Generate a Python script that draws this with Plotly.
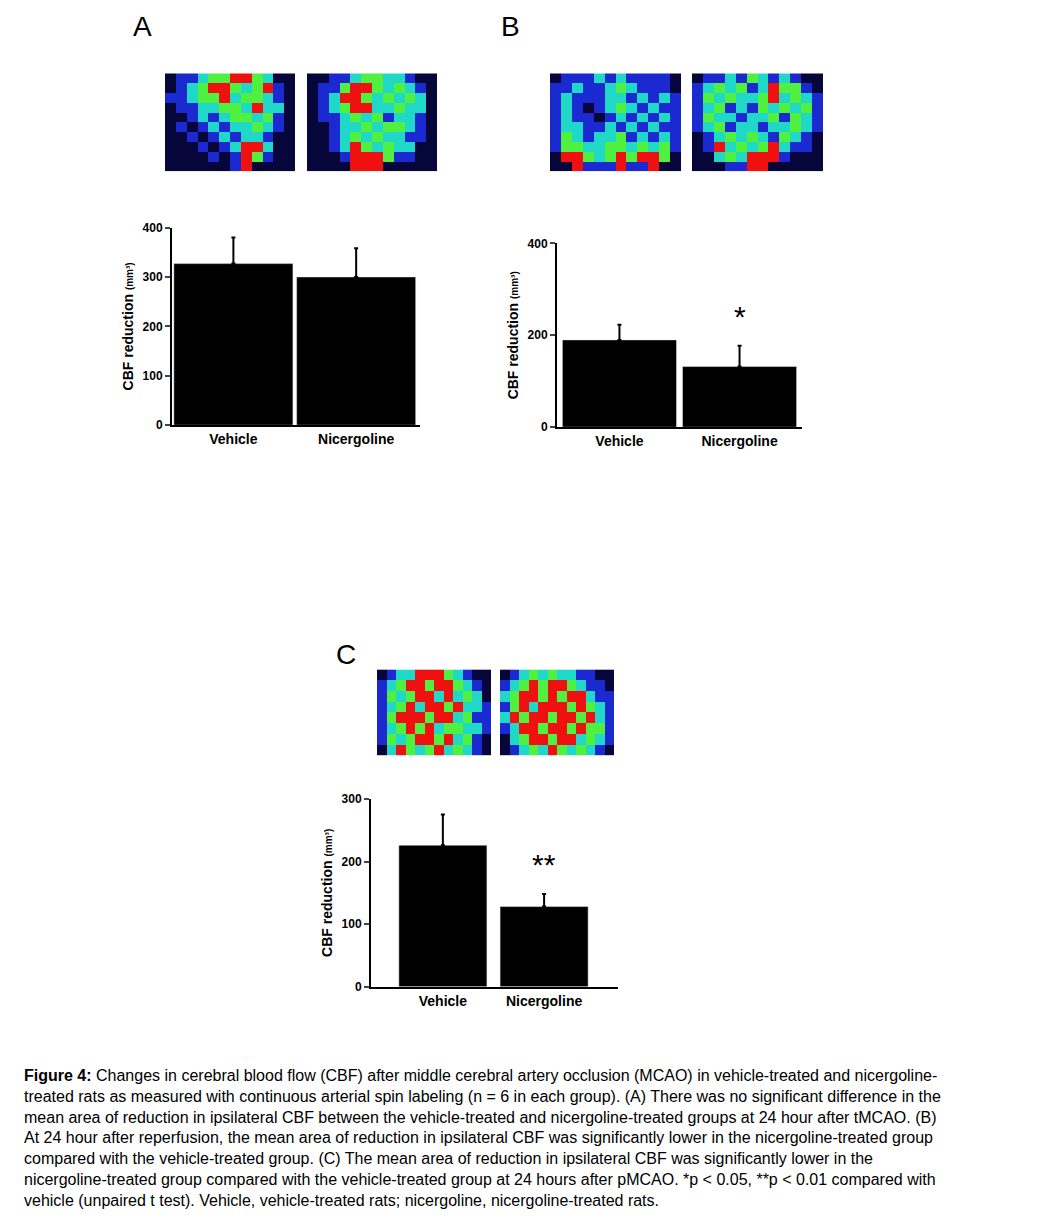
import plotly.graph_objects as go

# Bar data (CBF reduction, mm3)
groups = ["Vehicle", "Nicergoline"]
a_mean = [327, 300]
a_err = [53, 58]
b_mean = [190, 132]
b_err = [33, 45]
c_mean = [226, 128]
c_err = [49, 20]

# Perfusion map grids, 0 = background, 1 blue, 2 cyan, 3 green, 4 red
a_veh = [
    [0, 1, 1, 2, 3, 3, 4, 4, 3, 2, 0, 0],
    [0, 1, 2, 3, 4, 4, 3, 2, 3, 4, 1, 0],
    [1, 1, 2, 3, 3, 4, 2, 3, 3, 2, 1, 0],
    [0, 1, 1, 2, 2, 3, 3, 2, 4, 2, 2, 0],
    [0, 0, 1, 2, 1, 2, 3, 3, 2, 3, 1, 0],
    [0, 1, 0, 1, 2, 1, 2, 2, 3, 2, 1, 0],
    [0, 0, 1, 0, 1, 2, 1, 2, 2, 1, 0, 0],
    [0, 0, 0, 1, 0, 1, 2, 4, 4, 2, 0, 0],
    [0, 0, 0, 0, 1, 0, 1, 4, 3, 1, 0, 0],
    [0, 0, 0, 0, 0, 0, 1, 4, 0, 0, 0, 0],
]
a_nic = [
    [0, 0, 1, 1, 2, 3, 3, 2, 2, 1, 0, 0],
    [0, 1, 1, 3, 4, 4, 3, 2, 3, 2, 1, 0],
    [0, 1, 2, 4, 4, 3, 2, 3, 2, 3, 2, 0],
    [0, 1, 2, 3, 4, 4, 2, 2, 3, 2, 2, 0],
    [0, 1, 1, 2, 3, 2, 3, 1, 2, 2, 1, 0],
    [0, 0, 1, 2, 2, 3, 2, 3, 3, 2, 1, 0],
    [0, 0, 1, 2, 3, 2, 3, 2, 2, 1, 1, 0],
    [0, 0, 1, 2, 4, 3, 2, 3, 2, 2, 0, 0],
    [0, 0, 0, 1, 4, 4, 4, 3, 1, 1, 0, 0],
    [0, 0, 0, 0, 4, 4, 4, 0, 0, 0, 0, 0],
]
b_veh = [
    [0, 1, 1, 1, 2, 1, 2, 1, 1, 1, 1, 0],
    [1, 1, 2, 1, 1, 2, 3, 2, 1, 1, 1, 0],
    [1, 2, 1, 1, 1, 2, 2, 1, 2, 1, 2, 1],
    [1, 2, 1, 0, 1, 2, 3, 2, 1, 2, 1, 1],
    [1, 2, 1, 1, 0, 1, 2, 1, 2, 1, 2, 1],
    [1, 2, 2, 1, 1, 2, 1, 2, 1, 2, 1, 1],
    [1, 3, 2, 1, 2, 2, 3, 1, 2, 1, 2, 1],
    [1, 3, 3, 2, 2, 3, 3, 2, 3, 2, 3, 1],
    [0, 4, 4, 3, 2, 3, 4, 3, 4, 4, 3, 0],
    [0, 0, 4, 1, 1, 1, 4, 1, 1, 4, 0, 0],
]
b_nic = [
    [0, 1, 1, 2, 1, 3, 2, 1, 2, 1, 0, 0],
    [1, 2, 3, 2, 3, 1, 2, 4, 3, 3, 1, 0],
    [1, 3, 2, 3, 2, 2, 3, 4, 2, 3, 2, 1],
    [1, 2, 3, 1, 2, 1, 3, 2, 3, 2, 3, 1],
    [1, 3, 2, 2, 1, 2, 2, 3, 1, 3, 2, 1],
    [1, 2, 3, 1, 2, 2, 1, 2, 2, 3, 2, 1],
    [0, 1, 2, 3, 2, 3, 2, 1, 3, 2, 1, 0],
    [0, 1, 4, 2, 3, 2, 3, 4, 2, 1, 1, 0],
    [0, 0, 2, 3, 2, 4, 4, 4, 1, 0, 0, 0],
    [0, 0, 0, 1, 1, 4, 4, 0, 0, 0, 0, 0],
]
c_veh = [
    [0, 1, 2, 2, 4, 4, 4, 3, 2, 1, 0, 0],
    [1, 2, 3, 4, 4, 3, 4, 4, 3, 2, 1, 0],
    [1, 3, 2, 3, 4, 4, 2, 4, 2, 3, 2, 0],
    [1, 2, 3, 4, 2, 4, 4, 3, 4, 2, 2, 1],
    [1, 3, 4, 4, 4, 3, 4, 4, 2, 3, 1, 1],
    [1, 2, 3, 4, 3, 4, 2, 3, 3, 2, 2, 1],
    [1, 3, 2, 3, 4, 4, 3, 4, 2, 3, 1, 0],
    [0, 2, 4, 3, 2, 3, 4, 2, 3, 2, 1, 0],
]
c_nic = [
    [0, 1, 2, 3, 2, 3, 2, 2, 1, 1, 0, 0],
    [1, 2, 3, 4, 3, 4, 4, 3, 2, 1, 1, 0],
    [2, 3, 4, 4, 3, 4, 3, 4, 4, 2, 1, 1],
    [1, 3, 4, 2, 4, 4, 4, 3, 4, 3, 2, 1],
    [2, 4, 3, 4, 4, 3, 4, 4, 3, 4, 2, 1],
    [1, 2, 4, 4, 3, 4, 4, 3, 4, 3, 3, 1],
    [0, 2, 3, 4, 4, 3, 4, 4, 2, 3, 2, 1],
    [0, 1, 2, 3, 2, 4, 3, 2, 3, 2, 1, 0],
]

W, H = 1056, 1220
FONT = "Liberation Sans, Arial, sans-serif"
jet = [[0.0, "#06063a"], [0.2, "#06063a"], [0.2, "#1a2ad0"], [0.4, "#1a2ad0"],
       [0.4, "#20d8c8"], [0.6, "#20d8c8"], [0.6, "#50f040"], [0.8, "#50f040"],
       [0.8, "#f01010"], [1.0, "#f01010"]]


def px(x0, x1):
    return [x0 / W, x1 / W]


def py(top, bottom):
    return [1 - bottom / H, 1 - top / H]


fig = go.Figure()

# images
images = [
    (a_veh, (157, 287), (59, 158)), (a_nic, (299, 429), (59, 158)),
    (b_veh, (542, 673), (59, 158)), (b_nic, (684, 815), (59, 158)),
    (c_veh, (369, 483), (662, 749)), (c_nic, (492, 606), (662, 749)),
]
n = 1
for grid, xs, ys in images:
    fig.add_trace(go.Heatmap(z=grid, colorscale=jet, zmin=0, zmax=4, showscale=False,
                             hoverinfo="skip", xaxis=f"x{n}", yaxis=f"y{n}"))
    fig.update_layout(**{
        f"xaxis{n}": dict(domain=px(*xs), visible=False, anchor=f"y{n}"),
        f"yaxis{n}": dict(domain=py(*ys), visible=False, autorange="reversed", anchor=f"x{n}"),
    })
    n += 1

# bar panels
panels = [
    (a_mean, a_err, (164, 412), (215, 415), 400, [0, 100, 200, 300, 400], [-0.5, 1.52], 0.03, None),
    (b_mean, b_err, (549, 794), (231, 417), 400, [0, 200, 400], [-0.52, 1.52], 0.05, "*"),
    (c_mean, c_err, (363, 610), (793, 983), 300, [0, 100, 200, 300], [-0.71, 1.73], 0.13, "**"),
]
for mean, err, xs, ys, ymax, ticks, xr, gap, star in panels:
    xa, ya = f"x{n}", f"y{n}"
    fig.add_trace(go.Bar(x=[0, 1], y=mean, width=1 - gap, marker_color="black",
                         error_y=dict(type="data", array=err, symmetric=False,
                                      arrayminus=[0, 0], color="black", thickness=2, width=2),
                         xaxis=xa, yaxis=ya, showlegend=False))
    if star:
        fig.add_annotation(x=1, y=mean[1] + err[1] + ymax * 0.06, xref=xa, yref=ya,
                           text=star, showarrow=False, yanchor="bottom",
                           font=dict(size=30, color="black", family=FONT))
    fig.update_layout(**{
        f"xaxis{n}": dict(domain=px(*xs), range=xr, anchor=ya, tickvals=[0, 1], ticktext=groups,
                          showline=True, linecolor="black", linewidth=2, ticks="",
                          tickfont=dict(size=14, family=FONT, color="black", weight="bold")),
        f"yaxis{n}": dict(domain=py(*ys), range=[0, ymax], anchor=xa, tickvals=ticks,
                          showline=True, linecolor="black", linewidth=2, ticks="outside",
                          ticklen=5, tickwidth=2, showgrid=False, zeroline=False,
                          tickfont=dict(size=12, family=FONT, color="black", weight="bold"),
                          title=dict(text="CBF reduction <span style='font-size:10px'>(mm³)</span>",
                                     font=dict(size=14, family=FONT, color="black", weight="bold"),
                                     standoff=6)),
    })
    n += 1

for lab, x, y in [("A", 123, -6), ("B", 502, -6), ("C", 326, 629)]:
    fig.add_annotation(x=x / W, y=1 - y / H, xref="paper", yref="paper", text=lab,
                       showarrow=False, yanchor="top", font=dict(size=28, family=FONT, color="black"))

caption = ("<b>Figure 4:</b> Changes in cerebral blood flow (CBF) after middle cerebral artery occlusion (MCAO) in vehicle-treated and nicergoline-<br>"
           "treated rats as measured with continuous arterial spin labeling (n = 6 in each group). (A) There was no significant difference in the<br>"
           "mean area of reduction in ipsilateral CBF between the vehicle-treated and nicergoline-treated groups at 24 hour after tMCAO. (B)<br>"
           "At 24 hour after reperfusion, the mean area of reduction in ipsilateral CBF was significantly lower in the nicergoline-treated group<br>"
           "compared with the vehicle-treated group. (C) The mean area of reduction in ipsilateral CBF was significantly lower in the<br>"
           "nicergoline-treated group compared with the vehicle-treated group at 24 hours after pMCAO. *p &lt; 0.05, **p &lt; 0.01 compared with<br>"
           "vehicle (unpaired t test). Vehicle, vehicle-treated rats; nicergoline, nicergoline-treated rats.")
fig.add_annotation(x=14 / W, y=1 - 1062 / H, xref="paper", yref="paper", text=caption,
                   showarrow=False, xanchor="left", yanchor="top", align="left",
                   font=dict(size=16, family=FONT, color="black"))

fig.update_layout(width=W, height=H, margin=dict(l=0, r=0, t=0, b=0),
                  plot_bgcolor="white", paper_bgcolor="white", showlegend=False)

fig.write_html("out.html")
